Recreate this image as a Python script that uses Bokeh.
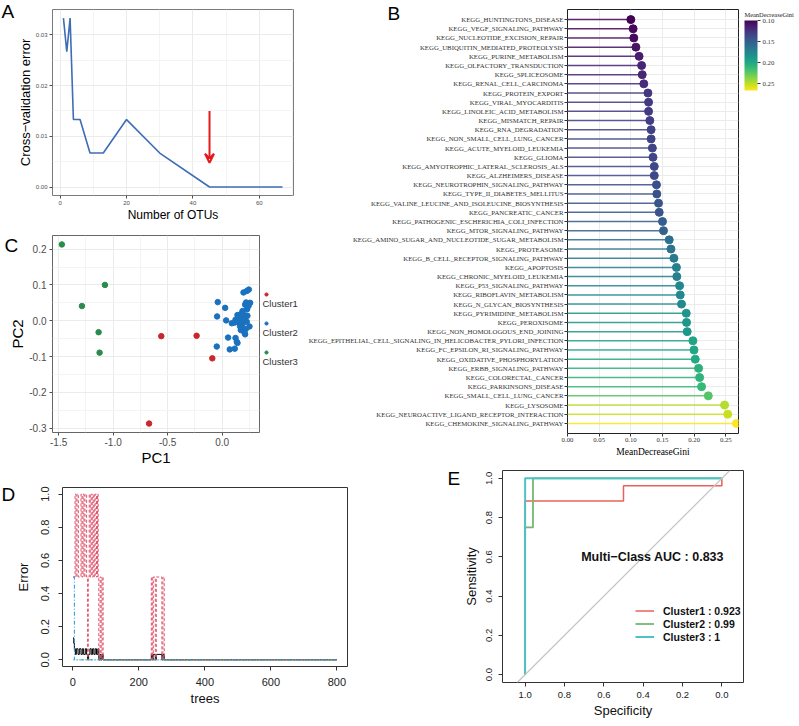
from bokeh.plotting import figure
from bokeh.layouts import row, column
from bokeh.models import (Range1d, FactorRange, FixedTicker, Label, Arrow, VeeHead, Legend,
                          LegendItem, ColorBar, LinearColorMapper, CustomJSTickFormatter,
                          NumeralTickFormatter, Slope, ColumnDataSource, AllLabels)
from bokeh.palettes import Viridis256
from bokeh.transform import linear_cmap
from bokeh.embed import file_html
from bokeh.resources import INLINE

SANS = "Liberation Sans"
SERIF = "Liberation Serif"

# ---------------- data ----------------
# A: cross-validation
otus = [1, 2, 3, 4, 6, 9, 13, 20, 30, 45, 67]
cv_error = [0.0333, 0.0267, 0.0333, 0.0133, 0.0133, 0.0067, 0.0067, 0.0133, 0.0067, 0.0, 0.0]
arrow_otu = 45
arrow_from = 0.015
arrow_to = 0.0048

# B: importance
pathways = [
    "KEGG_HUNTINGTONS_DISEASE", "KEGG_VEGF_SIGNALING_PATHWAY", "KEGG_NUCLEOTIDE_EXCISION_REPAIR",
    "KEGG_UBIQUITIN_MEDIATED_PROTEOLYSIS", "KEGG_PURINE_METABOLISM", "KEGG_OLFACTORY_TRANSDUCTION",
    "KEGG_SPLICEOSOME", "KEGG_RENAL_CELL_CARCINOMA", "KEGG_PROTEIN_EXPORT", "KEGG_VIRAL_MYOCARDITIS",
    "KEGG_LINOLEIC_ACID_METABOLISM", "KEGG_MISMATCH_REPAIR", "KEGG_RNA_DEGRADATION",
    "KEGG_NON_SMALL_CELL_LUNG_CANCER", "KEGG_ACUTE_MYELOID_LEUKEMIA", "KEGG_GLIOMA",
    "KEGG_AMYOTROPHIC_LATERAL_SCLEROSIS_ALS", "KEGG_ALZHEIMERS_DISEASE",
    "KEGG_NEUROTROPHIN_SIGNALING_PATHWAY", "KEGG_TYPE_II_DIABETES_MELLITUS",
    "KEGG_VALINE_LEUCINE_AND_ISOLEUCINE_BIOSYNTHESIS", "KEGG_PANCREATIC_CANCER",
    "KEGG_PATHOGENIC_ESCHERICHIA_COLI_INFECTION", "KEGG_MTOR_SIGNALING_PATHWAY",
    "KEGG_AMINO_SUGAR_AND_NUCLEOTIDE_SUGAR_METABOLISM", "KEGG_PROTEASOME",
    "KEGG_B_CELL_RECEPTOR_SIGNALING_PATHWAY", "KEGG_APOPTOSIS", "KEGG_CHRONIC_MYELOID_LEUKEMIA",
    "KEGG_P53_SIGNALING_PATHWAY", "KEGG_RIBOFLAVIN_METABOLISM", "KEGG_N_GLYCAN_BIOSYNTHESIS",
    "KEGG_PYRIMIDINE_METABOLISM", "KEGG_PEROXISOME", "KEGG_NON_HOMOLOGOUS_END_JOINING",
    "KEGG_EPITHELIAL_CELL_SIGNALING_IN_HELICOBACTER_PYLORI_INFECTION",
    "KEGG_FC_EPSILON_RI_SIGNALING_PATHWAY", "KEGG_OXIDATIVE_PHOSPHORYLATION",
    "KEGG_ERBB_SIGNALING_PATHWAY", "KEGG_COLORECTAL_CANCER", "KEGG_PARKINSONS_DISEASE",
    "KEGG_SMALL_CELL_LUNG_CANCER", "KEGG_LYSOSOME", "KEGG_NEUROACTIVE_LIGAND_RECEPTOR_INTERACTION",
    "KEGG_CHEMOKINE_SIGNALING_PATHWAY",
]
gini = [0.100, 0.1036, 0.1047, 0.108, 0.113, 0.117, 0.118, 0.1205, 0.127, 0.128,
        0.128, 0.130, 0.132, 0.132, 0.134, 0.135, 0.137, 0.137, 0.1405, 0.141,
        0.1437, 0.1448, 0.150, 0.1516, 0.1606, 0.1633, 0.168, 0.172, 0.1726, 0.177,
        0.178, 0.180, 0.1875, 0.188, 0.189, 0.198, 0.1997, 0.2017, 0.207, 0.2086,
        0.2117, 0.2223, 0.248, 0.253, 0.2666]
gini_ticks = [0.0, 0.05, 0.10, 0.15, 0.20, 0.25]
bar_ticks = [0.10, 0.15, 0.20, 0.25]
bar_title = "MeanDecreaseGini"

# C: PCA
pc1_c1 = [-0.558, -0.234, -0.09, -0.67]
pc2_c1 = [-0.043, -0.042, -0.105, -0.287]
pc1_c2 = [-0.040, 0.028, -0.046, 0.037, 0.089, 0.116, 0.196, 0.226, 0.245, 0.220, 0.211, 0.242,
          0.257, 0.229, 0.187, 0.171, 0.202, 0.141, 0.211, 0.190, 0.165, 0.123, 0.226, 0.251,
          0.165, 0.180, 0.217, 0.196, 0.171, 0.205, 0.211, 0.135, 0.141, 0.055, 0.123, -0.049,
          0.070, 0.116, 0.159, 0.232, 0.187]
pc2_c2 = [0.052, 0.036, 0.012, 0.001, -0.007, -0.005, 0.079, 0.083, 0.087, 0.051, 0.045, 0.041,
          0.050, 0.032, 0.027, 0.018, 0.016, 0.016, 0.006, 0.000, 0.004, 0.003, -0.003, -0.016,
          -0.016, -0.021, -0.023, -0.028, -0.026, -0.033, -0.038, -0.059, -0.062, -0.047, -0.048,
          -0.072, -0.080, -0.078, -0.007, 0.014, -0.009]
pc1_c3 = [-1.47, -1.075, -1.286, -1.133, -1.124]
pc2_c3 = [0.213, 0.100, 0.041, -0.032, -0.089]
cluster_names = ["Cluster1", "Cluster2", "Cluster3"]

# D: error rates vs trees
trees_oob = [1, 3, 5, 8, 11, 16, 20, 25, 29, 33, 38, 42, 45, 48, 52, 56, 60, 64, 68, 72,
             76, 79, 83, 86, 89, 92, 238, 241, 244, 250, 253, 270, 273, 277, 800]
err_oob = [0.133, 0.1, 0.067, 0.033, 0.067, 0.033, 0.067, 0.033, 0.067, 0.033,
           0.067, 0.033, 0.0, 0.033, 0.067, 0.033, 0.067, 0.033, 0.067, 0.033,
           0.067, 0.0, 0.033, 0.0, 0.033, 0.0, 0.033, 0.0, 0.033, 0.0,
           0.033, 0.0, 0.033, 0.0, 0.0]
trees_c1 = [1, 7, 10, 13, 17, 25, 28, 31, 34, 37, 42, 45, 47, 50, 53, 56, 59, 62, 65, 68,
            72, 75, 77, 79, 83, 86, 89, 92, 238, 241, 244, 250, 253, 270, 273, 277, 800]
err_c1 = [0.5, 1.0, 0.5, 1.0, 0.5, 1.0, 0.5, 1.0, 0.5, 1.0,
          0.5, 0.0, 0.5, 1.0, 0.5, 1.0, 0.5, 1.0, 0.5, 1.0,
          0.5, 1.0, 0.5, 0.0, 0.5, 0.0, 0.5, 0.0, 0.5, 0.0,
          0.5, 0.0, 0.5, 0.0, 0.5, 0.0, 0.0]
trees_c2 = [1, 800]
err_c2 = [0.0, 0.0]
trees_c3 = [1, 5, 800]
err_c3 = [0.5, 0.0, 0.0]

# E: ROC
roc1_spec = [1.0, 1.0, 0.5, 0.5, 0.0, 0.0]
roc1_sens = [0.0, 0.885, 0.885, 0.962, 0.962, 1.0]
roc2_spec = [1.0, 1.0, 0.96, 0.96, 0.0]
roc2_sens = [0.0, 0.75, 0.75, 1.0, 1.0]
roc3_spec = [1.0, 1.0, 0.0]
roc3_sens = [0.0, 1.0, 1.0]
roc_labels = ["Cluster1 : 0.923", "Cluster2 : 0.99", "Cluster3 : 1"]
auc_text = "Multi\u2212Class AUC : 0.833"

panel_letters = ["A", "B", "C", "D", "E"]

PAGE_W = 797
PAGE_H = 720


def base_fig(**kw):
    p = figure(output_backend="svg", toolbar_location=None, **kw)
    p.background_fill_color = "white"
    p.border_fill_color = "white"
    p.frame_align = False
    return p


def gg_style(p, tick_size, title_size, border_color):
    p.outline_line_color = border_color
    p.outline_line_width = 1
    for ax in (p.xaxis[0], p.yaxis[0]):
        ax.axis_line_color = None
        ax.major_tick_line_color = "#4d4d4d"
        ax.major_tick_out = 3
        ax.major_tick_in = 0
        ax.minor_tick_line_color = None
        ax.major_label_text_font = SANS
        ax.major_label_text_font_size = tick_size
        ax.major_label_text_color = "#4d4d4d"
        ax.major_label_standoff = 1
        ax.axis_label_text_font = SANS
        ax.axis_label_text_font_size = title_size
        ax.axis_label_text_font_style = "normal"
        ax.axis_label_text_color = "black"
        ax.axis_label_standoff = 0
    p.grid.grid_line_color = "#EBEBEB"
    p.grid.grid_line_width = 1
    p.grid.minor_grid_line_color = "#F4F4F4"


def r_style(p, tick_size, title_size):
    p.outline_line_color = "#333333"
    p.outline_line_width = 1
    p.grid.visible = False
    for ax in (p.xaxis[0], p.yaxis[0]):
        ax.axis_line_color = None
        ax.major_tick_line_color = "#333333"
        ax.major_tick_out = 4
        ax.major_tick_in = 0
        ax.minor_tick_line_color = None
        ax.major_label_text_font = SANS
        ax.major_label_text_font_size = tick_size
        ax.major_label_text_color = "#222222"
        ax.axis_label_text_font = SANS
        ax.axis_label_text_font_size = title_size
        ax.axis_label_text_font_style = "normal"
        ax.axis_label_text_color = "#111111"
    p.yaxis[0].major_label_orientation = "vertical"


# ---------------- A ----------------
pA = base_fig(width=294, height=224, x_range=Range1d(-2.3, 70.3), y_range=Range1d(-0.00167, 0.035),
              min_border_left=52, min_border_right=1, min_border_top=9, min_border_bottom=26,
              x_axis_label="Number of OTUs", y_axis_label="Cross\u2212validation error")
gg_style(pA, "6px", "12px", "#7a7a7a")
pA.yaxis.axis_label_text_font_size = "13px"
pA.xaxis.ticker = FixedTicker(ticks=[0, 20, 40, 60], minor_ticks=[10, 30, 50, 70])
pA.yaxis.ticker = FixedTicker(ticks=[0, 0.01, 0.02, 0.03], minor_ticks=[0.005, 0.015, 0.025, 0.035])
pA.yaxis.formatter = NumeralTickFormatter(format="0.00")
pA.line(otus, cv_error, line_color="#3d6db5", line_width=1.6)
pA.add_layout(Arrow(end=VeeHead(size=9, line_color="#e41a1c", line_width=2, fill_color=None),
                    x_start=arrow_otu, y_start=arrow_from, x_end=arrow_otu, y_end=arrow_to,
                    line_color="#e41a1c", line_width=2))

# ---------------- B ----------------
pB = base_fig(width=503, height=468, x_range=Range1d(0, 0.27),
              y_range=FactorRange(factors=pathways[::-1], range_padding=0.6, range_padding_units="absolute"),
              min_border_left=273, min_border_right=59, min_border_top=9, min_border_bottom=35,
              x_axis_label="MeanDecreaseGini")
pB.outline_line_color = "#222222"
pB.outline_line_width = 1
for ax in (pB.xaxis[0], pB.yaxis[0]):
    ax.axis_line_color = None
    ax.major_tick_line_color = "#333333"
    ax.major_tick_out = 3
    ax.major_tick_in = 0
    ax.minor_tick_line_color = None
    ax.major_label_text_font = SERIF
    ax.major_label_text_font_size = "6.8px"
    ax.major_label_text_color = "#333333"
    ax.major_label_standoff = 1
    ax.axis_label_text_font = SERIF
    ax.axis_label_text_font_style = "normal"
    ax.axis_label_text_font_size = "9.5px"
    ax.axis_label_text_color = "black"
    ax.axis_label_standoff = 2
pB.xaxis.ticker = FixedTicker(ticks=gini_ticks)
pB.xaxis.formatter = NumeralTickFormatter(format="0.00")
pB.grid.grid_line_color = "#EBEBEB"
srcB = ColumnDataSource(dict(path=pathways, gini=gini, zero=[0.0] * len(gini)))
cmap = linear_cmap("gini", Viridis256, low=min(gini), high=max(gini))
pB.segment(x0="zero", y0="path", x1="gini", y1="path", source=srcB, line_color=cmap,
           line_width=1.5, line_alpha=0.85)
pB.scatter("gini", "path", source=srcB, size=8, fill_color=cmap, line_color=cmap)
bar_mapper = LinearColorMapper(palette=list(reversed(Viridis256)), low=-max(gini), high=-min(gini))
cb = ColorBar(color_mapper=bar_mapper, ticker=FixedTicker(ticks=[-t for t in bar_ticks]),
              formatter=CustomJSTickFormatter(code="return Math.abs(tick).toFixed(2)"),
              major_label_policy=AllLabels(),
              width=13, height=70,
              major_label_text_font=SERIF, major_label_text_font_size="6.8px",
              major_label_text_color="#333333",
              major_tick_out=3, major_tick_in=0, major_tick_line_color="#333333",
              minor_tick_line_color=None, bar_line_color=None, padding=0, margin=0,
              location=(6, 343), label_standoff=2, background_fill_color=None,
              border_line_color=None)
pB.add_layout(cb, "right")

# ---------------- C ----------------
pC = base_fig(width=294, height=244, x_range=Range1d(-1.556, 0.343), y_range=Range1d(-0.312, 0.238),
              min_border_left=52, min_border_right=35, min_border_top=11, min_border_bottom=33,
              x_axis_label="PC1", y_axis_label="PC2")
gg_style(pC, "10px", "15px", "#666666")
pC.xaxis.ticker = FixedTicker(ticks=[-1.5, -1.0, -0.5, 0.0], minor_ticks=[-1.25, -0.75, -0.25, 0.25])
pC.yaxis.ticker = FixedTicker(ticks=[-0.3, -0.2, -0.1, 0.0, 0.1, 0.2],
                              minor_ticks=[-0.25, -0.15, -0.05, 0.05, 0.15])
pC.xaxis.formatter = NumeralTickFormatter(format="0.0")
pC.yaxis.formatter = NumeralTickFormatter(format="0.0")
pC.yaxis.major_label_standoff = 2
col_c = ["#C8282C", "#1A72BF", "#2A8C4A"]
pC.scatter(pc1_c1, pc2_c1, size=5.5, color=col_c[0])
pC.scatter(pc1_c2, pc2_c2, size=5.5, color=col_c[1])
pC.scatter(pc1_c3, pc2_c3, size=5.5, color=col_c[2])

# ---------------- D ----------------
pD = base_fig(width=360, height=252, x_range=Range1d(-31, 832), y_range=Range1d(-0.04, 1.04),
              min_border_left=62, min_border_right=13, min_border_top=19, min_border_bottom=54,
              x_axis_label="trees", y_axis_label="Error")
r_style(pD, "11px", "13px")
pD.xaxis.ticker = FixedTicker(ticks=[0, 200, 400, 600, 800])
pD.yaxis.ticker = FixedTicker(ticks=[0, 0.2, 0.4, 0.6, 0.8, 1.0])
pD.yaxis.formatter = NumeralTickFormatter(format="0.0")
pD.xaxis.major_label_standoff = 7
pD.xaxis.axis_label_standoff = 2
pD.yaxis.major_label_standoff = 9
pD.yaxis.axis_label_standoff = 8
pD.step(trees_oob, err_oob, mode="after", line_color="black", line_width=1)
pD.step(trees_c1, err_c1, mode="after", line_color="#DF536B", line_width=1, line_dash="3 2")
pD.step(trees_c2, err_c2, mode="after", line_color="#61D04F", line_width=1, line_dash="1 2")
pD.step(trees_c3, err_c3, mode="after", line_color="#2297E6", line_width=1, line_dash="4 2 1 2")

# ---------------- E ----------------
pE = base_fig(width=437, height=252, x_range=Range1d(1.115, -0.11), y_range=Range1d(-0.04, 1.04),
              min_border_left=142, min_border_right=54, min_border_top=2, min_border_bottom=38,
              x_axis_label="Specificity", y_axis_label="Sensitivity")
r_style(pE, "9.5px", "13px")
pE.xaxis.ticker = FixedTicker(ticks=[1.0, 0.8, 0.6, 0.4, 0.2, 0.0])
pE.yaxis.ticker = FixedTicker(ticks=[0.0, 0.2, 0.4, 0.6, 0.8, 1.0])
pE.xaxis.formatter = NumeralTickFormatter(format="0.0")
pE.yaxis.formatter = NumeralTickFormatter(format="0.0")
pE.xaxis.major_label_standoff = 5
pE.xaxis.axis_label_standoff = 2
pE.yaxis.major_label_standoff = 6
pE.yaxis.axis_label_standoff = 5
pE.add_layout(Slope(gradient=-1, y_intercept=1, line_color="#c4c4c4", line_width=1.2))
roc_cols = ["#E8615A", "#72B872", "#4CC3C3"]
re1 = pE.line(roc1_spec, roc1_sens, line_color=roc_cols[0], line_width=1.5)
re2 = pE.line(roc2_spec, roc2_sens, line_color=roc_cols[1], line_width=1.8)
re3 = pE.line(roc3_spec, roc3_sens, line_color=roc_cols[2], line_width=2)
legE = Legend(items=[LegendItem(label=lab, renderers=[r]) for lab, r in zip(roc_labels, (re1, re2, re3))],
              location=(133, 39), orientation="vertical", glyph_width=19, glyph_height=13,
              label_height=13, label_standoff=9, spacing=0, padding=0, margin=0,
              border_line_color=None, background_fill_alpha=0, label_text_font=SANS,
              label_text_font_size="10.5px", label_text_font_style="bold", label_text_color="#111111")
pE.add_layout(legE, "center")
pE.add_layout(Label(x=0.715, y=0.598, text=auc_text, text_font=SANS, text_font_size="12.5px",
                    text_font_style="bold", text_color="#111111", text_align="left",
                    text_baseline="middle"))

# ---------------- overlay: panel letters, colour-bar title, PCA legend ----------------
ov = figure(width=PAGE_W, height=PAGE_H, x_range=Range1d(0, PAGE_W), y_range=Range1d(PAGE_H, 0),
            x_axis_type=None, y_axis_type=None, output_backend="svg", toolbar_location=None,
            min_border=0)
ov.frame_align = False
ov.outline_line_color = None
ov.background_fill_color = None
ov.border_fill_color = None
ov.margin = (-PAGE_H, 0, 0, 0)
letter_pos = [(1, 0), (387, 2), (4, 234), (1, 483), (447, 467)]
for t, (lx, ly) in zip(panel_letters, letter_pos):
    ov.add_layout(Label(x=lx, y=ly, text=t, text_font=SANS, text_font_size="19px",
                        text_color="black", text_align="left", text_baseline="top"))
ov.add_layout(Label(x=744, y=10, text=bar_title, text_font=SERIF, text_font_size="6.4px",
                    text_color="#222222", text_align="left", text_baseline="top"))
# hidden copies of the PCA series, only used to draw the legend keys of panel C
keys = [ov.scatter(xs, ys, size=5.5, color=c, visible=False)
        for xs, ys, c in zip((pc1_c1, pc1_c2, pc1_c3), (pc2_c1, pc2_c2, pc2_c3), col_c)]
legC = Legend(items=[LegendItem(label=" ", renderers=[k]) for k in keys],
              location=(262, PAGE_H - 284 - 78), orientation="vertical", glyph_width=8,
              glyph_height=20, label_height=20, label_standoff=0, spacing=9, padding=0, margin=0,
              border_line_color=None, background_fill_alpha=0, label_text_font_size="6px",
              inactive_fill_alpha=0)
ov.add_layout(legC, "center")
for name, ly in zip(cluster_names, [303, 332, 361]):
    ov.add_layout(Label(x=262, y=ly, text=name, text_font=SANS, text_font_size="9.5px",
                        text_color="#333333", text_align="left", text_baseline="middle"))

main = column(row(column(pA, pC), pB), row(pD, pE))
layout = column(main, ov)
open("out.html", "w").write(file_html(layout, INLINE))
